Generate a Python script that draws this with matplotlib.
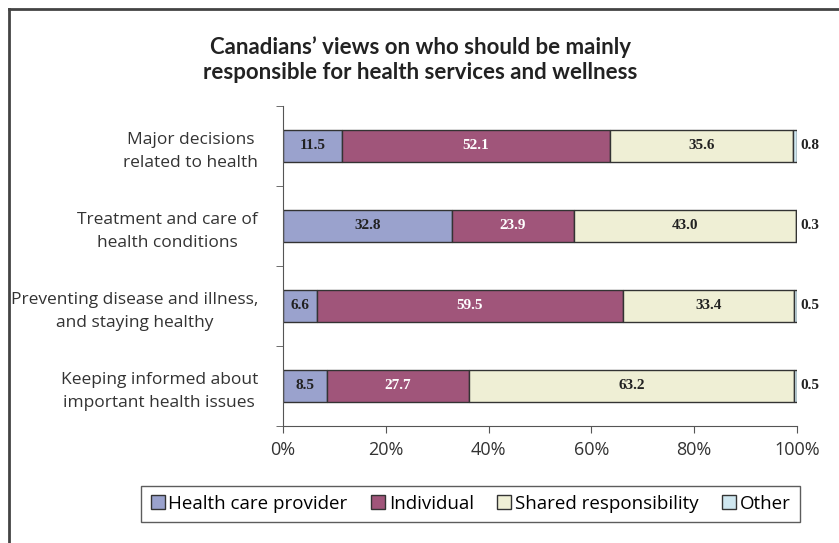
import numpy as np
import matplotlib.pyplot as plt
from matplotlib.lines import Line2D

categories = ['Major decisions\nrelated to health',
              'Treatment and care of\nhealth conditions',
              'Preventing disease and illness,\nand staying healthy',
              'Keeping informed about\nimportant health issues']
series = ['Health care provider', 'Individual', 'Shared responsibility', 'Other']
provider = [11.5, 32.8, 6.6, 8.5]
individual = [52.1, 23.9, 59.5, 27.7]
shared = [35.6, 43.0, 33.4, 63.2]
other = [0.8, 0.3, 0.5, 0.5]
xticks = [0, 20, 40, 60, 80, 100]

colors = ['#9aa2cd', '#a0557a', '#efefd5', '#cfe7f0']
text_colors = ['#222222', 'white', '#222222', '#222222']

plt.rcParams['font.family'] = ['Open Sans', 'DejaVu Sans']

fig = plt.figure(figsize=(8.39, 5.43), dpi=100)
ax = fig.add_axes([0.3373, 0.2155, 0.6127, 0.5893])

y = np.arange(len(categories))
left = np.zeros(len(categories))
values = [provider, individual, shared, other]
for s, vals, c, tc in zip(series, values, colors, text_colors):
    vals = np.array(vals)
    ax.barh(y, vals, left=left, height=0.4, color=c, edgecolor='#333333',
            linewidth=1.0, label=s)
    for yi, l, v in zip(y, left, vals):
        if s == 'Other':
            ax.text(100.6, yi, f'{v:.1f}', ha='left', va='center',
                    fontsize=11, fontweight='bold', family='Liberation Serif',
                    color='#222222')
        else:
            ax.text(l + v / 2, yi, f'{v:.1f}', ha='center', va='center',
                    fontsize=11, fontweight='bold', family='Liberation Serif',
                    color=tc)
    left = left + vals

ax.set_xlim(0, 100)
ax.set_ylim(len(categories) - 0.5, -0.5)
ax.set_xticks(xticks)
ax.set_xticklabels([f'{t}%' for t in xticks], fontsize=13, color='#333333')
ax.set_yticks(y)
ax.set_yticklabels(categories, fontsize=12.5, color='#333333', linespacing=1.55)
for t in ax.get_yticklabels():
    t.set_multialignment('center')
ax.set_yticks(np.arange(-0.5, len(categories)), minor=True)
ax.tick_params(axis='y', which='major', length=0, pad=18)
ax.tick_params(axis='y', which='minor', length=5, color='#555555')
ax.tick_params(axis='x', length=5, color='#555555', pad=6)
for sp in ['top', 'right']:
    ax.spines[sp].set_visible(False)
for sp in ['left', 'bottom']:
    ax.spines[sp].set_color('#555555')

fig.text(0.5006, 0.89, 'Canadians\u2019 views on who should be mainly\nresponsible for health services and wellness',
         ha='center', va='center', fontsize=16, fontweight='bold',
         family=['Lato', 'DejaVu Sans'], color='#222222',
         linespacing=1.25)

leg = fig.legend(loc='center', bbox_to_anchor=(0.561, 0.072), ncol=4,
                 fontsize=13.5, frameon=True, fancybox=False,
                 handlelength=0.75, handleheight=0.75, handletextpad=0.2,
                 columnspacing=1.25, borderpad=0.5)
leg.get_frame().set_edgecolor('#333333')
leg.get_frame().set_linewidth(1.0)

# outer frame (top and left)
fig.add_artist(Line2D([0.011, 1.0], [0.983, 0.983], color='#444444', linewidth=2))
fig.add_artist(Line2D([0.011, 0.011], [0.0, 0.983], color='#444444', linewidth=2))

plt.savefig('out.png', dpi=100)
